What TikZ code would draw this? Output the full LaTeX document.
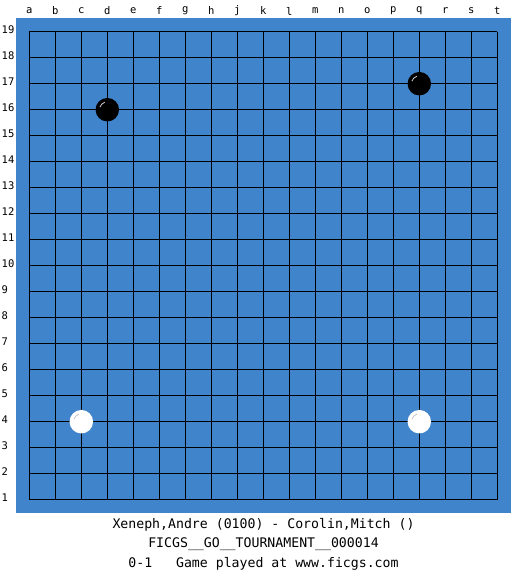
\documentclass[tikz,border=0pt]{standalone}
\usepackage{fontspec}
\setmonofont{DejaVu Sans Mono}
\begin{document}
\begin{tikzpicture}[x=1pt,y=-1pt,
  board/.style={fill=boardblue,draw=none},
  gridline/.style={draw=black,line width=1.4pt},
  blackstone/.style={circle,fill=black,draw=none,minimum size=23.5pt,inner sep=0pt},
  whitestone/.style={circle,fill=white,draw=none,minimum size=23.5pt,inner sep=0pt},
  collabel/.style={font=\ttfamily\fontsize{10.5}{11}\selectfont,inner sep=0pt},
  rowlabel/.style={font=\ttfamily\fontsize{10.5}{11}\selectfont,inner sep=0pt,anchor=west},
  info/.style={font=\ttfamily\fontsize{13.2}{14}\selectfont,inner sep=0pt}]
\definecolor{boardblue}{RGB}{64,132,204}
\useasboundingbox (0,0) rectangle (525,575);
\fill[white] (0,0) rectangle (525,575);
\path[board] (16,18) rectangle (511,513);
\foreach \i in {0,...,18} {
  \draw[gridline] ({29.3+26*\i},31.7) -- ({29.3+26*\i},499.7);
  \draw[gridline] (29.3,{31.7+26*\i}) -- (497.3,{31.7+26*\i});
}
\foreach \l [count=\i from 0] in {a,b,c,d,e,f,g,h,j,k,l,m,n,o,p,q,r,s,t} {
  \node[collabel] (col\l) at ({29.3+26*\i},11) {\l};
}
\foreach \r in {1,...,19} {
  \node[rowlabel] (row\r) at (1.5,{31.7+26*(19-\r)-2}) {\r};
}
% stones
\node[blackstone] (d16) at ({29.3+26*3},{31.7+26*3}) {};
\node[blackstone] (q17) at ({29.3+26*15},{31.7+26*2}) {};
\node[whitestone] (c4) at ({29.3+26*2},{31.7+26*15}) {};
\node[whitestone] (q4) at ({29.3+26*15},{31.7+26*15}) {};
\foreach \s in {d16,q17} {
  \draw[white!80!black,line width=0.8pt] ([shift={(-7.4,-2.6)}]\s.center) arc[start angle=199,end angle=252,radius=7.85];
}
\foreach \s in {c4,q4} {
  \draw[black!22,line width=0.8pt] ([shift={(-7.4,-2.6)}]\s.center) arc[start angle=199,end angle=252,radius=7.85];
}
\node[info] (players) at (263.5,525) {Xeneph,Andre (0100) - Corolin,Mitch ()};
\node[info] (event) at (263.5,544.5) {FICGS\_\_GO\_\_TOURNAMENT\_\_000014};
\node[info] (result) at (263.5,564) {0-1\ \ \ Game played at www.ficgs.com};
\end{tikzpicture}
\end{document}
